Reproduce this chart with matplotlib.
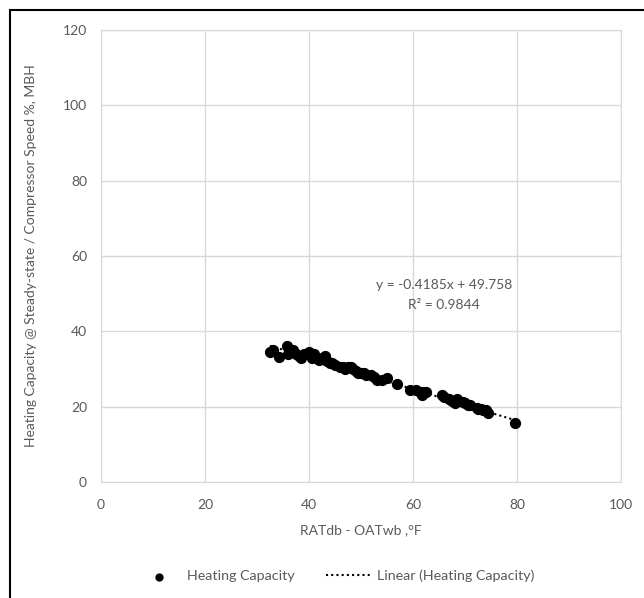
import matplotlib.pyplot as plt
import matplotlib.patches as patches
import numpy as np

# data
temp_diff = [32.5, 33, 34.2, 35.8, 36, 37, 37.5, 38, 38.5, 39, 40, 40.5, 41, 41.5, 42,
             42.5, 43, 43.5, 44, 44.5, 45, 46, 46.5, 47, 47.5, 48, 48.5, 49, 49.5, 50,
             50.5, 51, 52, 52.5, 53, 54, 55, 56.9, 59.4, 60.5, 61.3, 61.7, 62, 62.5,
             65.6, 66, 67, 67.5, 68, 68.5, 69.6, 70, 70.5, 71, 72.3, 72.5, 73, 73.5,
             74, 74.4, 79.6]
heat_cap = [34.5, 35, 33.2, 36.2, 34, 35, 34, 33.5, 33, 34, 34.5, 33, 34, 33, 32.5,
            33, 33.5, 32, 31.5, 31.5, 31, 30.5, 30.5, 30, 30.5, 30.5, 30, 29.5, 29, 29,
            29, 28.5, 28.5, 28, 27, 27, 27.5, 26, 24.4, 24.5, 23.9, 23.1, 24, 24,
            23.1, 22.5, 22, 21.5, 21, 22, 21.2, 21, 20.5, 20.5, 19.6, 19.5, 19.5, 19,
            19, 18.3, 15.7]
slope = -0.4185
intercept = 49.758
r2 = 0.9844

grid_col = '#d9d9d9'
txt_col = '#595959'
plt.rcParams['font.family'] = ['Lato', 'DejaVu Sans']

fig = plt.figure(figsize=(6.44, 5.98), dpi=100)
ax = fig.add_axes([101/644, 1 - 482/598, 520/644, 452/598])

ax.scatter(temp_diff, heat_cap, s=50, color='black', zorder=3, label='Heating Capacity')
xs = np.array([min(temp_diff), max(temp_diff)])
ax.plot(xs, slope * xs + intercept, color='black', linestyle=(0, (1, 1.5)), lw=1.5,
        zorder=2, label='Linear (Heating Capacity)')

ax.set_xlim(0, 100)
ax.set_ylim(0, 120)
ax.set_xticks(range(0, 101, 20))
ax.set_yticks(range(0, 121, 20))
ax.grid(True, color=grid_col, lw=1)
ax.set_axisbelow(True)
for s in ax.spines.values():
    s.set_color(grid_col)
ax.tick_params(length=0, colors=txt_col, labelsize=10)
ax.tick_params(axis='x', pad=12)
ax.tick_params(axis='y', pad=10)

ax.set_xlabel('RATdb - OATwb ,°F', color=txt_col, fontsize=10)
ax.xaxis.set_label_coords(0.5, (482 - 524) / 452)
ax.set_ylabel('Heating Capacity @ Steady-state / Compressor Speed %, MBH', color=txt_col,
              fontsize=10)
ax.yaxis.set_label_coords((37 - 101) / 520, 0.5)

ax.text(66, 52.3, f'y = {slope}x + {intercept}', ha='center', va='center',
        color=txt_col, fontsize=10)
ax.text(66, 47, f'R² = {r2}', ha='center', va='center', color=txt_col, fontsize=10)

leg = fig.legend(loc='center', bbox_to_anchor=(0.521, 1 - 576/598), ncol=2, frameon=False,
                 fontsize=10.3, handlelength=3.1, handletextpad=0.4, columnspacing=2.2,
                 markerscale=0.7)
for t in leg.get_texts():
    t.set_color(txt_col)

# outer chart frame
fig.patches.append(patches.Rectangle((10/644, -0.1), 1.2, 1 - 10/598 + 0.1,
                                     transform=fig.transFigure, fill=False,
                                     edgecolor='black', lw=1.5))

fig.savefig('out.png', dpi=100)
